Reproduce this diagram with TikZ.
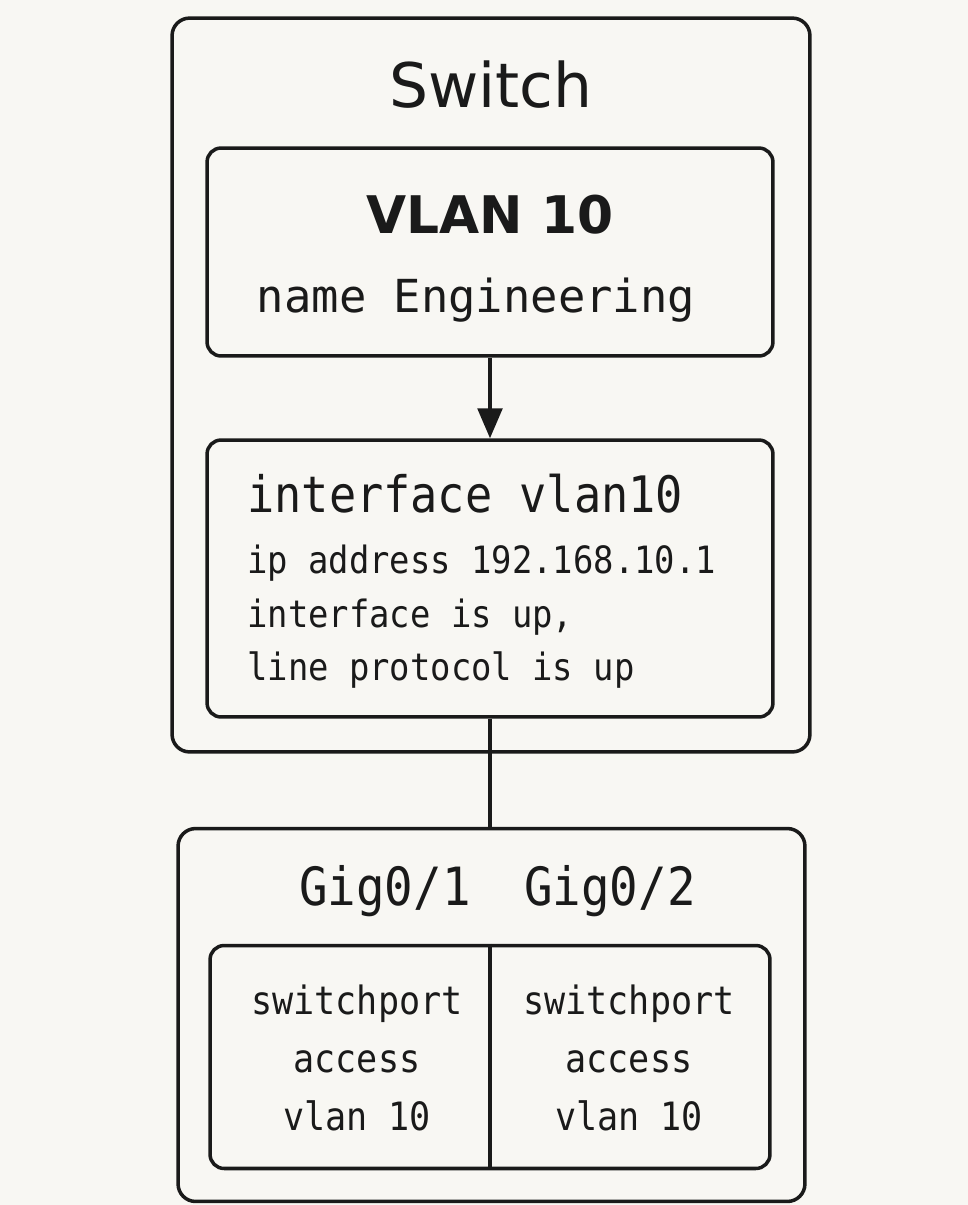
\documentclass[tikz,border=0pt]{standalone}
\usepackage{fontspec}
\setmainfont{DejaVu Sans}
\newfontfamily\monofont[FakeStretch=0.9]{DejaVu Sans Mono}
\newfontfamily\widemono{DejaVu Sans Mono}
\usetikzlibrary{arrows.meta}
\definecolor{paper}{HTML}{F8F7F3}
\definecolor{ink}{HTML}{1A1A1A}

\begin{document}
\begin{tikzpicture}[x=0.02cm,y=-0.02cm,
  boxes/.style={draw=ink,line width=2pt,rounded corners=8pt,inner sep=0pt},
  cmd/.style={text=ink,inner sep=0pt},
  wire/.style={draw=ink,line width=2pt}]

    \fill[paper] (0,0) rectangle (968,1205);
    \useasboundingbox (0,0) rectangle (968,1205);

    \node[boxes,rounded corners=10pt,minimum width=12.76cm,minimum height=14.68cm] (SW) at (491,385) {};
    \node[boxes,minimum width=11.32cm,minimum height=4.16cm] (VL) at (490,252) {};
    \node[boxes,minimum width=11.32cm,minimum height=5.54cm] (IF) at (490,578.5) {};
    \node[boxes,rounded corners=10pt,minimum width=12.54cm,minimum height=7.46cm] (GI) at (491.5,1015) {};
    \node[boxes,minimum width=11.2cm,minimum height=4.46cm] (PT) at (490,1057) {};

    \node[cmd,anchor=base,font=\fontsize{35}{42}\selectfont] (ST) at (491,107) {Switch};
    \node[cmd,anchor=base,font=\bfseries\fontsize{29.5}{35}\selectfont] (VT) at (490,233) {VLAN 10};
    \node[cmd,anchor=base,font=\widemono\fontsize{25.9}{30}\selectfont] (VN) at (476,312) {name Engineering};

    \node[cmd,anchor=base west,font=\monofont\fontsize{28.6}{34}\selectfont] (IT) at (247,512) {interface vlan10};
    \node[cmd,anchor=north west,align=left,font=\monofont\fontsize{21.4}{30.3}\selectfont] (IB) at (247,545) {ip address 192.168.10.1\\interface is up,\\line protocol is up};

    \node[cmd,anchor=base,font=\monofont\fontsize{30}{36}\selectfont] (G1) at (385,905) {Gig0/1};
    \node[cmd,anchor=base,font=\monofont\fontsize{30}{36}\selectfont] (G2) at (610,905) {Gig0/2};
    \node[cmd,anchor=north,align=center,font=\monofont\fontsize{22.2}{33.2}\selectfont] (P1) at (357,984) {switchport\\access\\vlan 10};
    \node[cmd,anchor=north,align=center,font=\monofont\fontsize{22.2}{33.2}\selectfont] (P2) at (629,984) {switchport\\access\\vlan 10};

    \draw[wire,-{Triangle[length=17pt,width=14pt]}] (VL.south) -- (IF.north);
    \draw[wire] (IF.south) -- (IF.south |- GI.north);
    \draw[wire] (PT.north) -- (PT.south);
\end{tikzpicture}
\end{document}
